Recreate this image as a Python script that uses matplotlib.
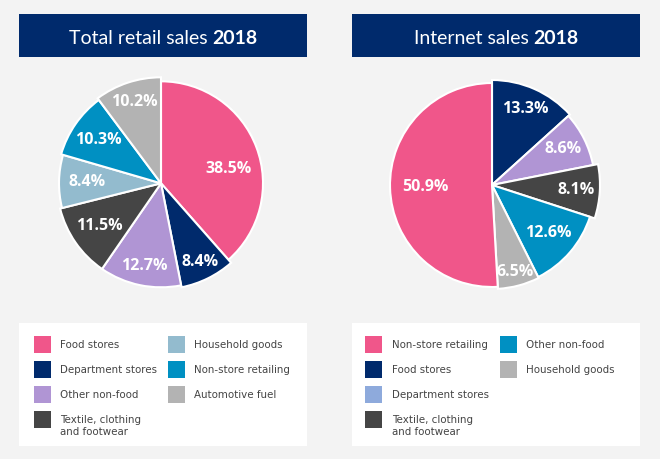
import matplotlib
matplotlib.use("Agg")
import matplotlib.pyplot as plt
from matplotlib.patches import Rectangle
import numpy as np

# ---------------- data ----------------
total_title = ("Total retail sales ", "2018")
internet_title = ("Internet sales ", "2018")

total_categories = ["Food stores", "Department stores", "Other non-food",
                    "Textile, clothing\nand footwear", "Household goods",
                    "Non-store retailing", "Automotive fuel"]
total_values = [38.5, 8.4, 12.7, 11.5, 8.4, 10.3, 10.2]

internet_pie_categories = ["Food stores", "Department stores",
                           "Textile, clothing\nand footwear", "Other non-food",
                           "Household goods", "Non-store retailing"]
internet_values = [13.3, 8.6, 8.1, 12.6, 6.5, 50.9]

internet_legend = ["Non-store retailing", "Food stores", "Department stores",
                   "Textile, clothing\nand footwear", "Other non-food",
                   "Household goods"]

# ---------------- styles ----------------
PINK = "#f0568a"
NAVY = "#002a6c"
LAV = "#b095d4"
DGRAY = "#454545"
LBLUE = "#93bbce"
BLUE = "#0090c2"
GRAY = "#b3b3b3"
CORN = "#8eaadc"
BG = "#f3f3f3"

total_colors = [PINK, NAVY, LAV, DGRAY, LBLUE, BLUE, GRAY]
total_radii = [102, 106, 104, 104, 102, 104, 106]
total_label_r = [69, 88, 84, 75, 74, 76, 86]
total_label_dang = [-9, 0, 0, 0, 0, 0, 0]

internet_colors = [NAVY, LAV, DGRAY, BLUE, GRAY, PINK]
internet_radii = [105, 103, 108, 103, 104, 102]
internet_label_r = [83, 80, 84, 74, 90, 67]
internet_label_dang = [0, 0, 0, 0, 0, 0]

internet_legend_colors = [PINK, NAVY, CORN, DGRAY, BLUE, GRAY]

TITLE_FONT = "Lato"
LEGEND_FONT = "DejaVu Sans"
LABEL_FONT = "Open Sans"
W, H = 660, 459

fig = plt.figure(figsize=(W / 100, H / 100), dpi=100, facecolor=BG)
bg = fig.add_axes([0, 0, 1, 1])
bg.set_xlim(0, W)
bg.set_ylim(H, 0)
bg.axis("off")


def title_box(x0, x1, y0, y1, parts):
    bg.add_patch(Rectangle((x0, y0), x1 - x0, y1 - y0, facecolor=NAVY,
                           edgecolor="none", zorder=1))
    cy = (y0 + y1) / 2 + 1
    t1 = bg.text(0, cy, parts[0], color="white", fontsize=14, family=TITLE_FONT,
                 ha="left", va="center_baseline", zorder=2)
    t2 = bg.text(0, cy, parts[1], color="white", fontsize=14, family=TITLE_FONT,
                 fontweight="bold", ha="left", va="center_baseline", zorder=2)
    r = fig.canvas.get_renderer()
    w1 = t1.get_window_extent(r).width
    w2 = t2.get_window_extent(r).width
    start = (x0 + x1) / 2 - (w1 + w2) / 2
    t1.set_x(start)
    t2.set_x(start + w1)


title_box(19, 307, 14, 57, total_title)
title_box(352, 640, 14, 57, internet_title)


def legend_box(x0, x1, y0, y1, labels, colors, sq_x, txt_x, col2_sq_x, col2_txt_x):
    bg.add_patch(Rectangle((x0, y0), x1 - x0, y1 - y0, facecolor="white",
                           edgecolor="none", zorder=1))
    row_y = [336, 361, 386, 411]
    for i, (lab, col) in enumerate(zip(labels, colors)):
        c = 0 if i < 4 else 1
        rr = i if i < 4 else i - 4
        sx = sq_x if c == 0 else col2_sq_x
        tx = txt_x if c == 0 else col2_txt_x
        y = row_y[rr]
        bg.add_patch(Rectangle((sx, y), 17, 17, facecolor=col,
                               edgecolor="none", zorder=2))
        for j, line in enumerate(lab.split("\n")):
            bg.text(tx, y + 8.5 + 3.6 + j * 11.5, line, color="#444444",
                    fontsize=7.4, family=LEGEND_FONT, ha="left", va="baseline",
                    zorder=3)


legend_box(19, 307, 323, 446, total_categories, total_colors,
           33.5, 60, 167.5, 194)
legend_box(352, 640, 323, 446, internet_legend, internet_legend_colors,
           365, 392, 499.5, 526)


def draw_pie(cx, cy, values, colors, radii, label_r, label_dang):
    size = 250
    ax = fig.add_axes([(cx - size / 2) / W, (H - cy - size / 2) / H,
                       size / W, size / H])
    wedges, _ = ax.pie(values, colors=colors, startangle=90, counterclock=False,
                       radius=100, wedgeprops=dict(edgecolor="white",
                                                   linewidth=1.5),
                       normalize=True)
    for w, r, lr, da, v in zip(wedges, radii, label_r, label_dang, values):
        w.set_radius(r)
        mid = np.deg2rad((w.theta1 + w.theta2) / 2 + da)
        ax.text(lr * np.cos(mid), lr * np.sin(mid), f"{v:.1f}%",
                color="white", fontsize=11.5, fontweight="bold",
                family=LABEL_FONT, ha="center", va="center")
    ax.set_xlim(-size / 2, size / 2)
    ax.set_ylim(-size / 2, size / 2)
    ax.set_aspect("equal")
    ax.axis("off")


draw_pie(161, 183.3, total_values, total_colors, total_radii, total_label_r,
         total_label_dang)
draw_pie(492, 185, internet_values, internet_colors, internet_radii,
         internet_label_r, internet_label_dang)

fig.savefig("out.png", dpi=100, facecolor=BG)
